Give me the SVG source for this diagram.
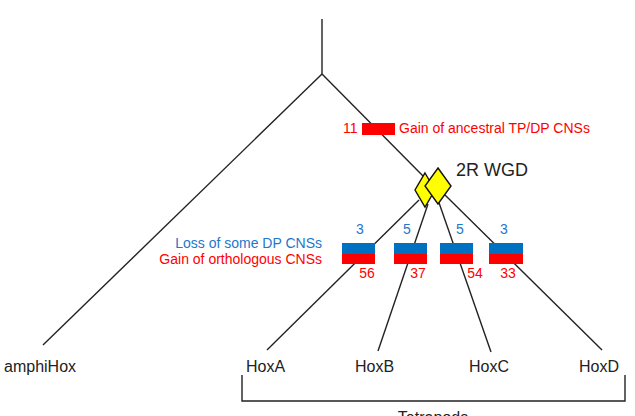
<svg xmlns="http://www.w3.org/2000/svg" width="635" height="416" viewBox="0 0 635 416">
<style>
.ln{stroke:#222;stroke-width:1.4;fill:none}
.t{font-family:"Liberation Sans",Arial,sans-serif}
.lbl{font-size:16px;fill:#222}
.red{fill:#ff0000;font-size:14px}
.blu{fill:#2277cc;font-size:14px}
.dia{fill:#ffff00;stroke:#111;stroke-width:1.4}
.bb{fill:#0070c0}
.rb{fill:#ff0000}
</style>
<rect width="635" height="416" fill="#fff"/>
<g id="connectors">
<line class="ln" x1="322" y1="19" x2="322" y2="74"/>
<line class="ln" x1="322" y1="74" x2="43" y2="345"/>
<line class="ln" x1="322" y1="74" x2="425" y2="178"/>
<line class="ln" x1="419" y1="200" x2="267" y2="350"/>
<line class="ln" x1="428" y1="204" x2="378" y2="351"/>
<line class="ln" x1="437" y1="197" x2="491" y2="352"/>
<line class="ln" x1="445" y1="195" x2="602" y2="350"/>
<polyline class="ln" points="242,375 242,401 625,401 625,375"/>
</g>
<g id="gain-ancestral">
<rect class="rb" x="362" y="123" width="33" height="12"/>
<text class="t red" x="343" y="133">11</text>
<text class="t red" x="399" y="133">Gain of ancestral TP/DP CNSs</text>
</g>
<g id="wgd">
<polygon class="dia" points="425,173 435,190 425,207 415,190"/>
<polygon class="dia" points="438,168 451,186 438,204 425,186"/>
<text class="t" x="456" y="176" font-size="18" fill="#222">2R WGD</text>
</g>
<g id="legend">
<text class="t blu" x="322" y="248" text-anchor="end">Loss of some DP CNSs</text>
<text class="t red" x="322" y="264" text-anchor="end">Gain of orthologous CNSs</text>
</g>
<g id="boxA">
<rect class="bb" x="342" y="243" width="33" height="11"/>
<rect class="rb" x="342" y="254" width="33" height="10"/>
<text class="t blu" x="360" y="234" text-anchor="middle">3</text>
<text class="t red" x="367" y="278" text-anchor="middle">56</text>
</g>
<g id="boxB">
<rect class="bb" x="394" y="243" width="33" height="11"/>
<rect class="rb" x="394" y="254" width="33" height="10"/>
<text class="t blu" x="407" y="234" text-anchor="middle">5</text>
<text class="t red" x="418" y="278" text-anchor="middle">37</text>
</g>
<g id="boxC">
<rect class="bb" x="440" y="243" width="33" height="11"/>
<rect class="rb" x="440" y="254" width="33" height="10"/>
<text class="t blu" x="460" y="234" text-anchor="middle">5</text>
<text class="t red" x="475" y="278" text-anchor="middle">54</text>
</g>
<g id="boxD">
<rect class="bb" x="489" y="243" width="34" height="11"/>
<rect class="rb" x="489" y="254" width="34" height="10"/>
<text class="t blu" x="504" y="234" text-anchor="middle">3</text>
<text class="t red" x="508" y="278" text-anchor="middle">33</text>
</g>
<g id="amphiHox"><text class="t lbl" x="4" y="372">amphiHox</text></g>
<g id="HoxA"><text class="t lbl" x="246" y="372">HoxA</text></g>
<g id="HoxB"><text class="t lbl" x="355" y="372">HoxB</text></g>
<g id="HoxC"><text class="t lbl" x="469" y="372">HoxC</text></g>
<g id="HoxD"><text class="t lbl" x="579" y="372">HoxD</text></g>
<g id="tetrapods"><text class="t lbl" x="433" y="423" text-anchor="middle">Tetrapods</text></g>
</svg>
